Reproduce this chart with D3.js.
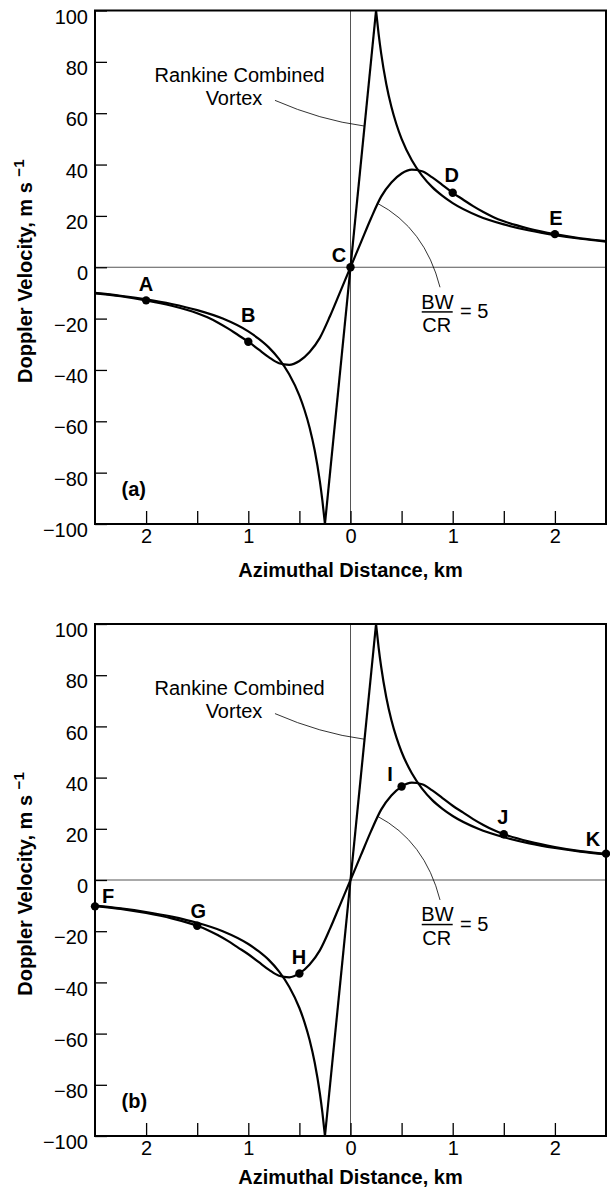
<!DOCTYPE html>
<meta charset="utf-8">
<style>
body { margin: 0; background: #fff; }
text { font-family: "Liberation Sans", Arial, Helvetica, sans-serif; fill: #000; }
.tick text { font-size: 20px; }
.axis-title { font-size: 20px; font-weight: bold; }
.pt-label { font-size: 20px; font-weight: bold; }
.note { font-size: 20px; }
</style>
<svg width="610" height="1190"></svg>
<script src="https://d3js.org/d3.v7.min.js"></script>
<script>

// Rankine combined vortex profile (km, m/s)
var rankineX = [-2.5, -2.25, -2, -1.75, -1.5, -1.25, -1, -0.9, -0.8, -0.7, -0.6, -0.5, -0.45, -0.4, -0.35, -0.3, -0.275, -0.25,
                0.25, 0.275, 0.3, 0.35, 0.4, 0.45, 0.5, 0.6, 0.7, 0.8, 0.9, 1, 1.25, 1.5, 1.75, 2, 2.25, 2.5];
var rankineV = [-10, -11.1, -12.5, -14.3, -16.7, -20, -25, -27.8, -31.2, -35.7, -41.7, -50, -55.6, -62.5, -71.4, -83.3, -90.9, -100,
                100, 90.9, 83.3, 71.4, 62.5, 55.6, 50, 41.7, 35.7, 31.2, 27.8, 25, 20, 16.7, 14.3, 12.5, 11.1, 10];

// Doppler profile for BW/CR = 5
var dopplerX = [-2.5, -2.25, -2, -1.75, -1.5, -1.4, -1.3, -1.2, -1.1, -1, -0.9, -0.8, -0.7, -0.6, -0.5, -0.4, -0.3, -0.2, -0.1,
                0, 0.1, 0.2, 0.3, 0.4, 0.5, 0.6, 0.7, 0.8, 0.9, 1, 1.1, 1.2, 1.3, 1.4, 1.5, 1.75, 2, 2.25, 2.5];
var dopplerV = [-10.2, -11.3, -12.9, -15, -17.9, -19.5, -21.5, -23.8, -26.4, -29, -32, -35, -37.4, -38, -36.5, -33, -27.5, -19, -9.5,
                0, 9.5, 19, 27.5, 33, 36.5, 38, 37.4, 35, 32, 29, 26.4, 23.8, 21.5, 19.5, 17.9, 15, 12.9, 11.3, 10.2];

// sample points, panel (a) and panel (b)
var pointsA = ["A", "B", "C", "D", "E"];
var pointsAX = [-2, -1, 0, 1, 2];
var pointsAV = [-12.9, -29, 0, 29, 12.9];
var pointsB = ["F", "G", "H", "I", "J", "K"];
var pointsBX = [-2.5, -1.5, -0.5, 0.5, 1.5, 2.5];
var pointsBV = [-10.3, -17.9, -36.5, 36.5, 17.9, 10.3];

var xTicks = [-2, -1.5, -1, -0.5, 0, 0.5, 1, 1.5, 2];
var yTicks = [-100, -80, -60, -40, -20, 0, 20, 40, 60, 80, 100];

// label offsets in px from each dot
var labelOffset = {
  A: [0, -9], B: [0, -20], C: [-11.5, -5], D: [-1, -11], E: [1, -9],
  F: [13, -3.5], G: [1, -8], H: [-0.5, -9], I: [-11.5, -6], J: [-1, -10], K: [-13, -8]
};

var svg = d3.select("svg");

var x = d3.scaleLinear().domain([-2.5, 2.5]).range([95, 606]);

var panels = [
  {top: 10.5, bottom: 524, titleGap: 52.5, tag: "(a)", names: pointsA, px: pointsAX, pv: pointsAV},
  {top: 624, bottom: 1136, titleGap: 48, tag: "(b)", names: pointsB, px: pointsBX, pv: pointsBV}
];

// split a profile at its local extremes so the cusps stay sharp
function splitAtPeaks(xs, vs) {
  var pieces = [], cur = [[xs[0], vs[0]]];
  for (var i = 1; i < xs.length; i++) {
    cur.push([xs[i], vs[i]]);
    if (i < xs.length - 1) {
      var a = vs[i] - vs[i - 1], b = vs[i + 1] - vs[i];
      if (a * b < 0) {
        pieces.push(cur);
        cur = [[xs[i], vs[i]]];
      }
    }
  }
  pieces.push(cur);
  return pieces;
}

panels.forEach(function(p) {
  var y = d3.scaleLinear().domain([-100, 100]).range([p.bottom, p.top]);
  var g = svg.append("g");

  // zero lines
  g.append("line")
      .attr("x1", x(0)).attr("x2", x(0))
      .attr("y1", y(-100)).attr("y2", y(100))
      .attr("stroke", "#555").attr("stroke-width", 1);
  g.append("line")
      .attr("x1", x(-2.5)).attr("x2", x(2.5))
      .attr("y1", y(0)).attr("y2", y(0))
      .attr("stroke", "#555").attr("stroke-width", 1);

  // axes, ticks inward
  var xAxis = g.append("g")
      .attr("transform", "translate(0," + y(-100) + ")")
      .call(d3.axisBottom(x).tickValues(xTicks).tickSize(-13).tickPadding(5)
        .tickFormat(function(d) { return Number.isInteger(d) ? Math.abs(d) : ""; }));
  xAxis.select(".domain").remove();
  xAxis.selectAll(".tick line").attr("stroke-width", 1.3);

  var yAxis = g.append("g")
      .attr("transform", "translate(" + x(-2.5) + ",0)")
      .call(d3.axisLeft(y).tickValues(yTicks).tickSize(-12).tickPadding(7)
        .tickFormat(function(d) { return d < 0 ? "\u2212" + Math.abs(d) : d; }));
  yAxis.select(".domain").remove();
  yAxis.selectAll(".tick line").attr("stroke-width", 1.3);
  yAxis.selectAll(".tick text").attr("dy", "0.63em");

  g.selectAll(".tick text").attr("font-family", null).attr("font-size", null);

  // frame
  g.append("rect")
      .attr("x", x(-2.5)).attr("y", y(100))
      .attr("width", x(2.5) - x(-2.5)).attr("height", y(-100) - y(100))
      .attr("fill", "none").attr("stroke", "#000").attr("stroke-width", 2);

  var line = d3.line()
      .x(function(d) { return x(d[0]); })
      .y(function(d) { return y(d[1]); })
      .curve(d3.curveMonotoneX);

  splitAtPeaks(rankineX, rankineV).forEach(function(piece) {
    g.append("path").attr("d", line(piece))
        .attr("fill", "none").attr("stroke", "#000").attr("stroke-width", 2.2);
  });

  var dop = dopplerX.map(function(d, i) { return [d, dopplerV[i]]; });
  g.append("path").attr("d", line(dop))
      .attr("fill", "none").attr("stroke", "#000").attr("stroke-width", 2.2);

  // sample points and their letters
  p.names.forEach(function(name, i) {
    var cx = x(p.px[i]), cy = y(p.pv[i]);
    g.append("circle").attr("cx", cx).attr("cy", cy).attr("r", 4.2).attr("fill", "#000");
    g.append("text").attr("class", "pt-label")
        .attr("x", cx + labelOffset[name][0]).attr("y", cy + labelOffset[name][1])
        .attr("text-anchor", "middle")
        .text(name);
  });

  // annotations
  g.append("text").attr("class", "note")
      .attr("x", x(-1.085)).attr("y", y(72.2))
      .attr("text-anchor", "middle").text("Rankine Combined");
  g.append("text").attr("class", "note")
      .attr("x", x(-1.14)).attr("y", y(63.1))
      .attr("text-anchor", "middle").text("Vortex");

  var bez = function(a, c, b) {
    return "M" + x(a[0]) + "," + y(a[1]) + "Q" + x(c[0]) + "," + y(c[1]) + " " + x(b[0]) + "," + y(b[1]);
  };
  g.append("path").attr("d", bez([-0.739, 65], [-0.298, 57.3], [0.135, 55]))
      .attr("fill", "none").attr("stroke", "#000").attr("stroke-width", 0.8);
  g.append("path").attr("d", bez([0.26, 25], [0.729, 15.2], [0.876, -7.8]))
      .attr("fill", "none").attr("stroke", "#000").attr("stroke-width", 0.8);

  g.append("text").attr("class", "note")
      .attr("x", x(0.851)).attr("y", y(-16.1))
      .attr("text-anchor", "middle").text("BW");
  g.append("line")
      .attr("x1", x(0.697)).attr("x2", x(1.0))
      .attr("y1", y(-17.4)).attr("y2", y(-17.4))
      .attr("stroke", "#000").attr("stroke-width", 1.5);
  g.append("text").attr("class", "note")
      .attr("x", x(0.843)).attr("y", y(-25.2))
      .attr("text-anchor", "middle").text("CR");
  g.append("text").attr("class", "note")
      .attr("x", x(1.071)).attr("y", y(-19.9))
      .text("= 5");

  g.append("text").attr("class", "pt-label")
      .attr("x", x(-2.24)).attr("y", y(-89))
      .text(p.tag);

  // axis titles
  g.append("text").attr("class", "axis-title")
      .attr("x", x(0)).attr("y", p.bottom + p.titleGap)
      .attr("text-anchor", "middle")
      .text("Azimuthal Distance, km");

  var yt = g.append("text").attr("class", "axis-title")
      .attr("transform", "translate(32," + (y(0) + 4) + ") rotate(-90)")
      .attr("text-anchor", "middle")
      .attr("font-size", 21);
  yt.append("tspan").text("Doppler Velocity, m s ");
  yt.append("tspan").attr("dy", -8).attr("font-size", 15).text("\u22121");
});

</script>
